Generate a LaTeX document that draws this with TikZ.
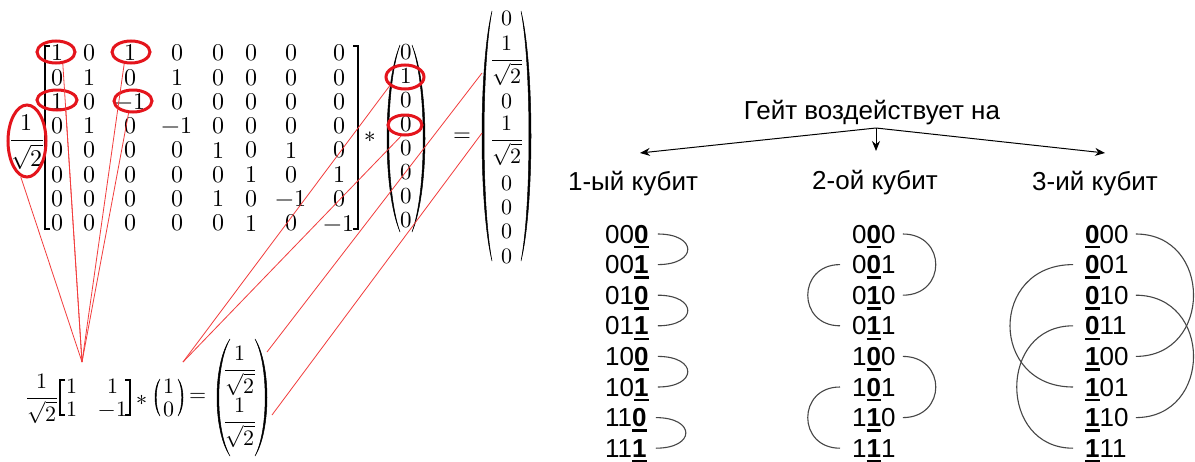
\documentclass[tikz,border=0pt]{standalone}
\usepackage{fontspec}
\usepackage{unicode-math}
\setmathfont{Latin Modern Math}
\newfontfamily\rufont{Liberation Sans}
\usetikzlibrary{shapes.geometric,arrows.meta,calc}

\definecolor{hlred}{RGB}{228,20,28}
\definecolor{guidered}{RGB}{242,60,60}
\definecolor{arcgray}{RGB}{70,70,70}

% bold, underlined digit of the qubit the gate acts on
\newbox\ubitbox
\newcommand\ubit[1]{{\setbox\ubitbox=\hbox{\bfseries #1}\rlap{\rule[-0.21em]{\wd\ubitbox}{0.1em}}\box\ubitbox}}

% tall parenthesis drawn as a crescent: x at the ends, top y, bottom y, x at the middle, inner offset
\newcommand\tallparen[5]{%
  \pgfmathsetmacro\parc{(4*#4-#1)/3}%
  \pgfmathsetmacro\park{0.22*(#3-#2)}%
  \pgfmathsetmacro\pari{\parc+#5}%
  \filldraw[line width=0.5pt] (#1,#2) .. controls (\parc,#2+\park) and (\parc,#3-\park) .. (#1,#3)
    .. controls (\pari,#3-\park) and (\pari,#2+\park) .. cycle;}

\begin{document}
\begin{tikzpicture}[x=1pt,y=-1pt,
  mnum/.style={inner sep=0pt, font=\fontsize{24}{28}\selectfont},
  vnum/.style={inner sep=0pt, font=\fontsize{23}{27}\selectfont},
  rnum/.style={inner sep=0pt, font=\fontsize{22}{26}\selectfont},
  bnum/.style={inner sep=0pt, font=\fontsize{22}{26}\selectfont},
  hl/.style={ellipse, draw=hlred, line width=3pt, inner sep=0pt},
  guide/.style={draw=guidered, line width=0.8pt},
  bit/.style={inner sep=0pt, anchor=base west, font=\rufont\fontsize{26}{30}\selectfont},
  head/.style={inner sep=0pt, font=\rufont\fontsize{26}{30}\selectfont},
  flip/.style={draw=arcgray, line width=1.1pt},
  gatearrow/.style={draw, line width=1pt, -{Stealth[length=10pt,width=8pt]}},
]
\useasboundingbox (0,0) rectangle (1195,461);
\fill[white] (0,0) rectangle (1195,461);

% ---------- 8x8 operator ----------
\foreach \row [count=\r] in {{1,0,1,0,0,0,0,0},{0,1,0,1,0,0,0,0},{1,0,-1,0,0,0,0,0},{0,1,0,-1,0,0,0,0},
                             {0,0,0,0,1,0,1,0},{0,0,0,0,0,1,0,1},{0,0,0,0,1,0,-1,0},{0,0,0,0,0,1,0,-1}} {
  \foreach \v [count=\c] in \row {
    \pgfmathsetmacro\xx{{57,89,130,177,218,251,291,339}[\c-1]}
    \node[mnum] (m-\r-\c) at (\xx,{53+24.3*(\r-1)}) {$\v$};
  }
}
\node[mnum] (pref) at (27,142) {$\displaystyle\frac{1}{\sqrt{2}}$};
\draw[line width=1.8pt] (50,46) -- (45,46) -- (45,229) -- (50,229);
\draw[line width=1.8pt] (353,46) -- (358,46) -- (358,229) -- (353,229);
\node[vnum] (mul) at (370,137) {$*$};

% ---------- input vector ----------
\foreach \v [count=\i] in {0,1,0,0,0,0,0,0}
  \node[vnum] (v-\i) at (406,{52+24*(\i-1)}) {$\v$};
\tallparen{400}{45}{232}{387}{2.4}
\tallparen{412}{45}{232}{425}{-2.4}
\node[vnum] (eq) at (462,137) {$=$};

% ---------- result vector ----------
\node[rnum] (r-1) at (507,18) {$0$};
\node[rnum] (r-2) at (507,61) {$\displaystyle\frac{1}{\sqrt{2}}$};
\node[rnum] (r-3) at (507,101) {$0$};
\node[rnum] (r-4) at (507,141) {$\displaystyle\frac{1}{\sqrt{2}}$};
\node[rnum] (r-5) at (507,183) {$0$};
\node[rnum] (r-6) at (507,207) {$0$};
\node[rnum] (r-7) at (507,231) {$0$};
\node[rnum] (r-8) at (507,256) {$0$};
\tallparen{492}{11}{261}{482}{2.7}
\tallparen{521}{11}{261}{531}{-2.7}

% ---------- one-qubit Hadamard ----------
\node[bnum] (hf) at (42,399) {$\displaystyle\frac{1}{\sqrt{2}}$};
\draw[line width=1.2pt] (65,380) -- (60,380) -- (60,415) -- (65,415);
\draw[line width=1.2pt] (125,380) -- (130,380) -- (130,415) -- (125,415);
\node[bnum] (h-1-1) at (72,386) {$1$};
\node[bnum] (h-2-1) at (72,409) {$1$};
\node[bnum] (h-1-2) at (113,386) {$1$};
\node[bnum] (h-2-2) at (113,409) {$-1$};
\node[bnum] (hmul) at (142,400) {$*$};
\tallparen{160}{379}{416}{155}{1.6}
\tallparen{178}{379}{416}{183}{-1.6}
\node[bnum] (k-1) at (169,386) {$1$};
\node[bnum] (k-2) at (169,409) {$0$};
\node[bnum] (heq) at (198,397) {$=$};
\node[bnum] (s-1) at (240,371) {$\displaystyle\frac{1}{\sqrt{2}}$};
\node[bnum] (s-2) at (240,423) {$\displaystyle\frac{1}{\sqrt{2}}$};
\tallparen{230}{339}{456}{217}{2.4}
\tallparen{255}{339}{456}{267}{-2.4}

% ---------- highlighted entries ----------
\node[hl, minimum width=38pt, minimum height=22pt] (E1) at (56,52) {};
\node[hl, minimum width=40pt, minimum height=20pt] (E2) at (57,100) {};
\node[hl, minimum width=38pt, minimum height=22pt] (E3) at (131,52) {};
\node[hl, minimum width=38pt, minimum height=22pt] (E4) at (133,101) {};
\node[hl, minimum width=38pt, minimum height=72pt] (E5) at (27,141) {};
\node[hl, minimum width=38pt, minimum height=24pt] (V1) at (405,77) {};
\node[hl, minimum width=34pt, minimum height=20pt] (V2) at (405,125) {};

% ---------- guide lines ----------
\coordinate (P1) at (82,362);
\coordinate (P2) at (183,362);
\coordinate (C1a) at (267,352);
\coordinate (C1b) at (482,73);
\coordinate (C2a) at (272,415);
\coordinate (C2b) at (482,133);
\draw[guide] (E1.-60) -- (P1);
\draw[guide] (E2.-50) -- (P1);
\draw[guide] (E3.-120) -- (P1);
\draw[guide] (E4.-110) -- (P1);
\draw[guide] (E5.-100) -- (P1);
\draw[guide] (V1.-150) -- (P2);
\draw[guide] (V2.-110) -- (P2);
\draw[guide] (C1a) -- (C1b);
\draw[guide] (C2a) -- (C2b);

% ---------- which qubit the gate acts on ----------
\node[head] (title) at (872,113) {Гейт воздействует на};
\coordinate (fork) at (876,128);
\node[head] (q1) at (633,184) {1-ый кубит};
\node[head] (q2) at (875,183) {2-ой кубит};
\node[head] (q3) at (1095,184) {3-ий кубит};
\coordinate (t1) at (640,153);
\coordinate (t2) at (876,151);
\coordinate (t3) at (1105,153);
\draw[gatearrow] (fork) -- (t1);
\draw[gatearrow] (fork) -- (t2);
\draw[gatearrow] (fork) -- (t3);

% basis states, paired by the flipped bit
\foreach \a/\b/\c [count=\i] in {{00\ubit{0}}/{0\ubit{0}0}/{\ubit{0}00},
                                {00\ubit{1}}/{0\ubit{0}1}/{\ubit{0}01},
                                {01\ubit{0}}/{0\ubit{1}0}/{\ubit{0}10},
                                {01\ubit{1}}/{0\ubit{1}1}/{\ubit{0}11},
                                {10\ubit{0}}/{1\ubit{0}0}/{\ubit{1}00},
                                {10\ubit{1}}/{1\ubit{0}1}/{\ubit{1}01},
                                {11\ubit{0}}/{1\ubit{1}0}/{\ubit{1}10},
                                {11\ubit{1}}/{1\ubit{1}1}/{\ubit{1}11}} {
  \node[bit] (b1-\i) at (605,{243+30.6*(\i-1)}) {\a};
  \node[bit] (b2-\i) at (852,{243+30.6*(\i-1)}) {\b};
  \node[bit] (b3-\i) at (1085,{243+30.6*(\i-1)}) {\c};
}

% first qubit
\foreach \p/\q in {1/2,3/4,5/6,7/8}
  \draw[flip] ($(b1-\p.base east)+(9,-9)$) .. controls +(40,0) and +(40,0) .. ($(b1-\q.base east)+(9,-9)$);
% second qubit
\foreach \p/\q in {1/3,5/7}
  \draw[flip] ($(b2-\p.base east)+(7,-9)$) .. controls +(44,0) and +(44,0) .. ($(b2-\q.base east)+(7,-9)$);
\foreach \p/\q in {2/4,6/8}
  \draw[flip] ($(b2-\p.base west)+(-12,-9)$) .. controls +(-43,0) and +(-43,0) .. ($(b2-\q.base west)+(-12,-9)$);
% third qubit
\foreach \p/\q in {1/5,3/7}
  \draw[flip] ($(b3-\p.base east)+(7,-9)$) .. controls +(77,0) and +(77,0) .. ($(b3-\q.base east)+(7,-9)$);
\draw[flip] ($(b3-2.base west)+(-12,-9)$) .. controls +(-84,0) and +(-84,0) .. ($(b3-6.base west)+(-12,-9)$);
\draw[flip] ($(b3-4.base west)+(-12,-9)$) .. controls +(-75,0) and +(-75,0) .. ($(b3-8.base west)+(-12,-9)$);
\end{tikzpicture}
\end{document}
